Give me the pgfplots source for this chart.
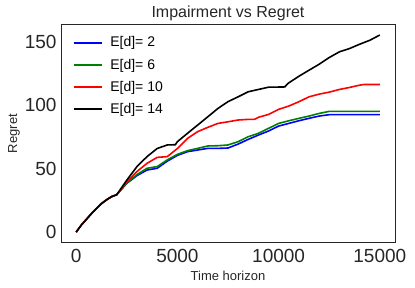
\documentclass[border=0pt]{standalone}
\usepackage{pgfplots}
\pgfplotsset{compat=1.18}
\usepackage{fontspec}
\setmainfont{Liberation Sans}
\definecolor{frame}{RGB}{38,38,38}
\definecolor{mb}{RGB}{0,0,255}
\definecolor{mg}{RGB}{0,128,0}
\definecolor{mr}{RGB}{255,0,0}
\begin{document}
\begin{tikzpicture}
\path (-61bp,-46bp) rectangle (354bp,242bp);
\begin{axis}[
  at={(0,0)}, anchor=south west,
  scale only axis, width=334bp, height=217bp,
  xmin=-750, xmax=15750, ymin=-7.8, ymax=163.5,
  xtick={0,5000,10000,15000}, ytick={0,50,100,150},
  scaled x ticks=false,
  /pgf/number format/assume math mode=true,
  /pgf/number format/1000 sep={},
  tick label style={font=\fontsize{19bp}{22bp}\selectfont, text=frame},
  major tick length=0pt,
  axis line style={frame, line width=1pt},
  xticklabel style={yshift=-4bp},
  yticklabel style={xshift=-1bp},
  title={Impairment vs Regret},
  title style={font=\fontsize{16bp}{19bp}\selectfont, text=frame, yshift=-5.5bp},
  xlabel={Time horizon}, ylabel={Regret},
  label style={font=\fontsize{13bp}{15bp}\selectfont, text=frame},
  xlabel style={yshift=-1bp},
  ylabel style={yshift=-2bp},
  legend style={at={(0.025,0.965)}, anchor=north west, draw=none, fill=none,
    font=\fontsize{14bp}{16bp}\selectfont, row sep=6.5bp},
  legend cell align=left,
  legend image code/.code={%
    \draw[mark repeat=2,mark phase=2,#1,line width=2pt] plot coordinates {(0bp,0bp) (14bp,0bp) (28bp,0bp)};
    \path (34bp,0bp);},
]
\addplot[color=mb, line width=1.6pt] coordinates {
(0,0)(250,5.5)(500,10)(750,14.5)(1000,18.5)(1250,22.5)(1500,25.5)(1750,28)(2000,29.5)
(2500,38.5)(3000,44.6)(3500,49)(4000,50.4)(4500,56)(5000,60.6)(5500,63.5)(6000,64.8)
(6500,66.1)(7000,66.1)(7500,66.4)(8000,69.5)(8500,73.2)(9000,76.6)(9500,79.8)
(10000,83.7)(10500,85.8)(11000,87.9)(11500,89.8)(12000,91.6)(12500,92.7)(15000,92.7)};
\addlegendentry{E[d]= 2}
\addplot[color=mg, line width=1.6pt] coordinates {
(0,0)(250,5.5)(500,10)(750,14.5)(1000,18.5)(1250,22.5)(1500,25.5)(1750,28)(2000,29.5)
(2500,38.8)(3000,45.4)(3500,50.4)(4000,51.7)(4500,57)(5000,61.4)(5500,64.3)(6000,66.1)
(6500,68)(7000,68.2)(7500,68.8)(8000,71.4)(8500,75.3)(9000,78)(9500,81.9)
(10000,85.8)(10500,87.9)(11000,89.8)(11500,91.6)(12000,93.7)(12500,95.3)(15000,95.3)};
\addlegendentry{E[d]= 6}
\addplot[color=mr, line width=1.6pt] coordinates {
(0,0)(250,5.5)(500,10)(750,14.5)(1000,18.5)(1250,22.5)(1500,25.5)(1750,28)(2000,29.5)
(2500,39.5)(3000,47.8)(3500,54.3)(4000,59)(4500,59.6)(5000,66)(5500,74)(6000,79.3)
(6500,82.7)(7000,85.8)(7500,87.1)(8000,88.5)(8500,89)(8800,89)(9000,90.6)(9500,92.9)
(10000,96.9)(10500,99.5)(11000,102.9)(11500,106.8)(12000,108.9)(12500,110.5)
(13000,112.6)(13500,114.2)(14000,116)(14200,116.5)(15000,116.5)};
\addlegendentry{E[d]= 10}
\addplot[color=black, line width=1.6pt] coordinates {
(0,0)(250,5.5)(500,10)(750,14.5)(1000,18.5)(1250,22.5)(1500,25.5)(1750,28)(2000,29.5)
(2500,41)(3000,51.7)(3500,59.6)(4000,66)(4500,68.8)(4900,69)(5000,71.4)(5500,78)
(6000,84.5)(6500,91)(7000,97.6)(7500,103)(8000,106.8)(8500,110.8)(9000,112.6)
(9500,114.4)(10300,114.6)(10500,117.8)(11000,123)(11500,127.8)(12000,132.5)
(12500,137.8)(13000,142.3)(13500,144.9)(14000,148.3)(14500,151.4)(15000,155.6)};
\addlegendentry{E[d]= 14}
\end{axis}
\end{tikzpicture}
\end{document}
